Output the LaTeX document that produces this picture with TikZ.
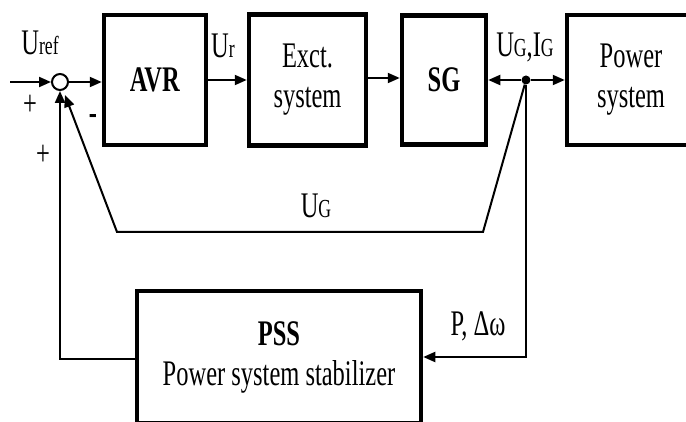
\documentclass[tikz,border=0pt]{standalone}
\usepackage{fontspec}
\setmainfont[FakeStretch=0.68]{Liberation Serif}
\usetikzlibrary{positioning,calc,arrows.meta}

\newcommand{\lowtxt}[1]{{\fontsize{26}{27}\selectfont #1}}

\begin{document}
\begin{tikzpicture}[x=1pt, y=-1pt,
      font=\fontsize{36}{40}\selectfont,
      blk/.style={draw=black, line width=4.5pt, align=center, inner sep=0pt},
      con/.style={draw=black, line width=2pt},
      arr/.style={con, -{Triangle[length=12pt,width=10pt]}},
      lab/.style={inner sep=0pt, anchor=base}
    ]
    \useasboundingbox (0,0) rectangle (686,422);

    % ---- forward path ----
    \node[circle, draw, line width=2pt, minimum size=16, inner sep=0pt] (sum) at (60,82) {};
    \node[blk, minimum width=102, minimum height=130] (avr) at (155,80) {\textbf{AVR}};
    \node[blk, minimum width=117, minimum height=131] (exct) at (307.5,80) {Exct.\\system};
    \node[blk, minimum width=84, minimum height=129] (sg) at (444,80) {\textbf{SG}};
    \node[blk, minimum width=128, minimum height=130] (pwr) at (631,80) {Power\\system};
    \node[circle, fill=black, minimum size=9, inner sep=0pt] (jn) at (526,80) {};

    % ---- stabilizer ----
    \node[blk, minimum width=284, minimum height=132] (pss) at (279,357)
      {\textbf{PSS}\\Power system stabilizer};

    % ---- free ends / bends ----
    \coordinate (uin) at (10,82);
    \coordinate (ugr) at (483,232);
    \coordinate (ugl) at (117,232);
    \coordinate (pin) at (526,357);
    \coordinate (pout) at (60,359);

    \draw[arr] (uin) -- (sum);
    \draw[arr] (sum) -- (sum -| avr.west);
    \draw[arr] (avr.east) -- (avr.east -| exct.west);
    \draw[arr] ($(exct.east)+(0,-2)$) -- ($(exct.east -| sg.west)+(0,-2)$);
    \draw[arr] (jn) -- (jn -| sg.east);
    \draw[arr] (jn) -- (jn -| pwr.west);
    \draw[arr, shorten >=5pt] (jn) -- (ugr) -- (ugl) -- (sum);
    \draw[arr] (jn) -- (pin) -- (pin -| pss.east);
    \draw[arr] (pss.west |- pout) -- (pout) -- (sum);

    % ---- labels ----
    \node[lab] (uref) at (40,55) {U\lowtxt{ref}};
    \node[inner sep=0pt] (plusa) at (30,105) {+};
    \node[inner sep=0pt] (plusb) at (43,155) {+};
    \node[inner sep=0pt] (minus) at (93,120) {\textbf{-}};
    \node[lab] (ur) at (223,58) {U\lowtxt{r}};
    \node[lab] (ugig) at (525,57) {U\lowtxt{G},I\lowtxt{G}};
    \node[lab] (ug) at (316,218) {U\lowtxt{G}};
    \node[lab] (pdw) at (478,335) {P, Δω};
  \end{tikzpicture}
\end{document}
